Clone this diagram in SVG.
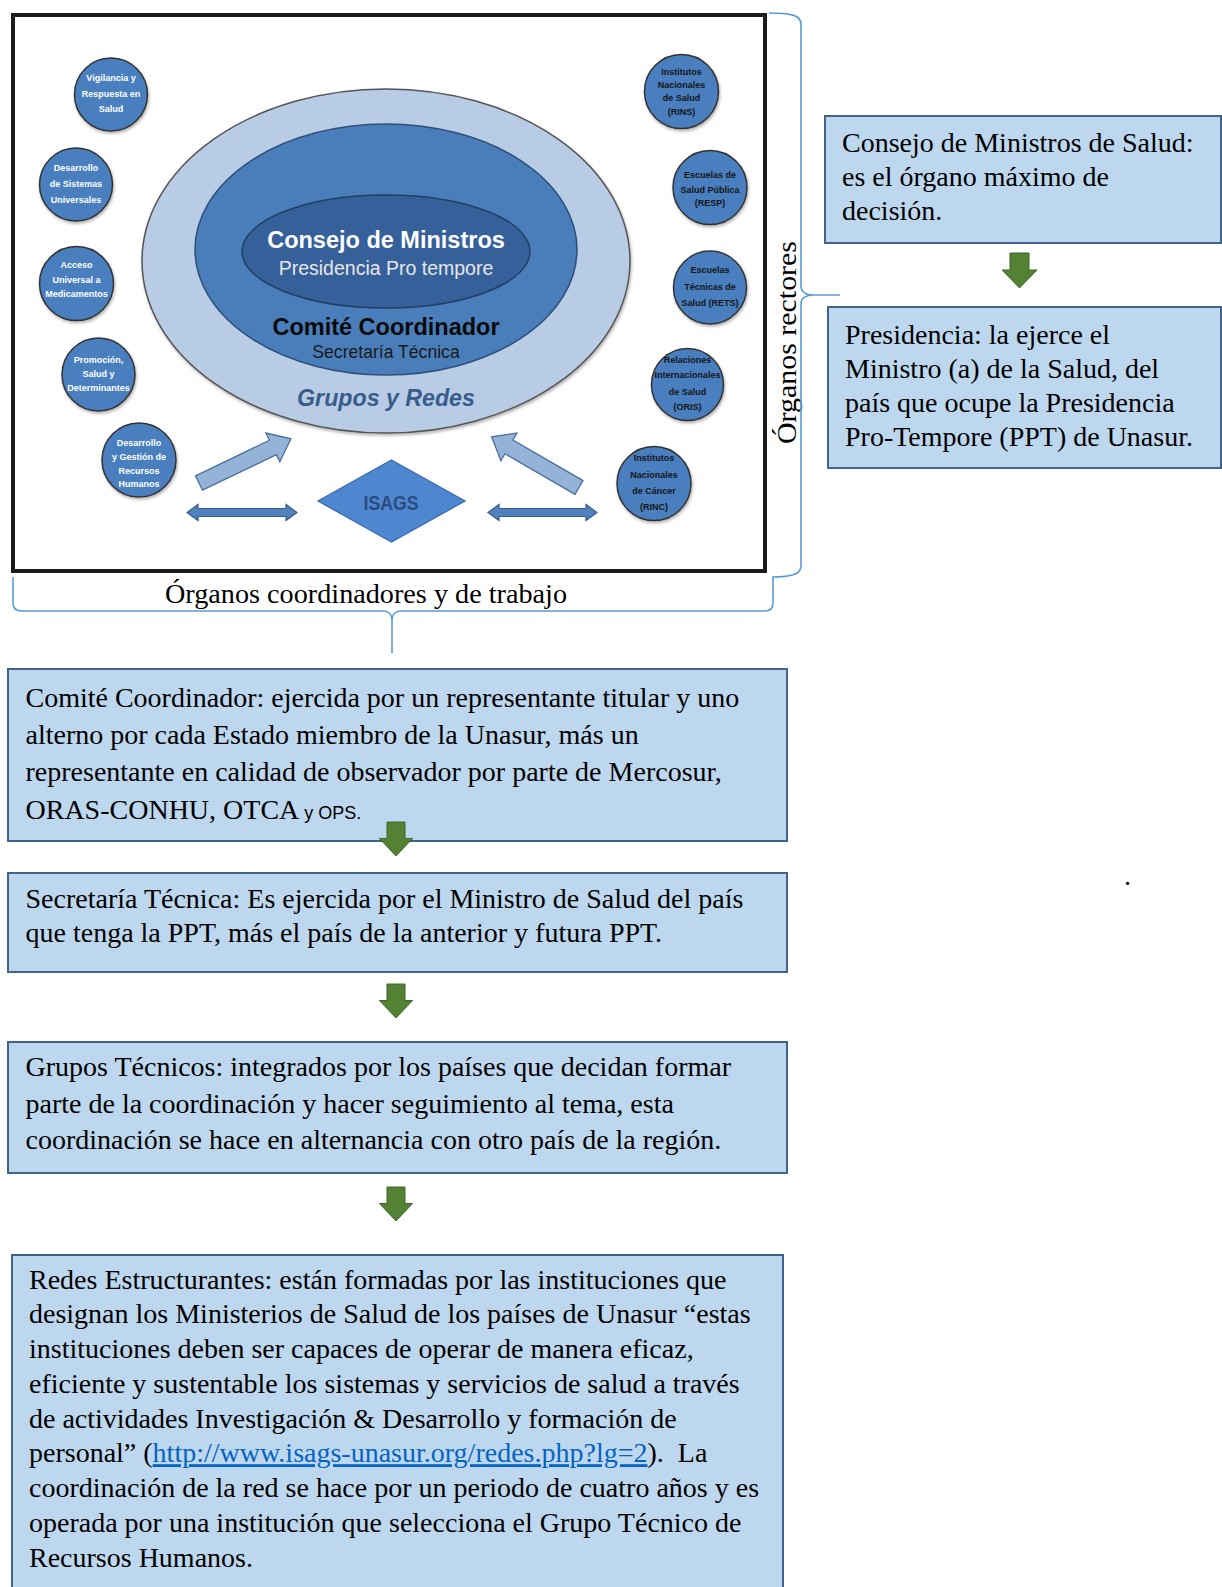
<svg xmlns="http://www.w3.org/2000/svg" xmlns:xlink="http://www.w3.org/1999/xlink" width="1222" height="1587" viewBox="0 0 1222 1587">
<style>
.t{font-family:"Liberation Serif","Times New Roman",serif;font-size:28px;fill:#000}
.sans{font-family:"Liberation Sans",Arial,sans-serif;font-size:18px}
.box{fill:#BDD7EE;stroke:#3F6389;stroke-width:2}
.circ{fill:#4A7EBF;stroke:#333;stroke-width:1.5}
.ct{font-family:"Liberation Sans",Arial,sans-serif;font-weight:bold;font-size:9px;text-anchor:middle}
.cw{fill:#fff}
.cb{fill:#151515}
.brace{fill:none;stroke:#5B9BD5;stroke-width:1.6}
.garrow{fill:#548235;stroke:#3E6327;stroke-width:1}
.diag{fill:#95B3D7;stroke:#4A6F9F;stroke-width:1.3}
.dbl{fill:#4F81BD;stroke:#385D8A;stroke-width:1.2}
.hs{font-family:"Liberation Sans",Arial,sans-serif;text-anchor:middle}
.link{fill:#0563C1;text-decoration:underline}
</style>
<defs>
<filter id="sh" x="-20%" y="-20%" width="140%" height="140%">
<feDropShadow dx="1" dy="2" stdDeviation="1.5" flood-color="#000" flood-opacity="0.3"/>
</filter>
<path id="ga" d="M-9.5,0 H9.5 V17 H17.5 L0,35 L-17.5,17 H-9.5 Z"/>
</defs>
<rect width="1222" height="1587" fill="#fff"/>

<g id="frame">
<rect x="13" y="15" width="752" height="556" fill="#fff" stroke="#1c1c1c" stroke-width="4"/>
</g>

<g id="ellipses">
<ellipse cx="386" cy="261" rx="244" ry="172" fill="#B8CCE6" stroke="#555" stroke-width="1.5" filter="url(#sh)"/>
<ellipse cx="386" cy="249.5" rx="191" ry="125.5" fill="#4A7EBB" stroke="#2E4F77" stroke-width="1.5"/>
<ellipse cx="386" cy="251.5" rx="144" ry="56.5" fill="#36609A" stroke="#233E63" stroke-width="1.5"/>
<text class="hs" x="386" y="248" font-size="23.5" font-weight="bold" fill="#fff">Consejo de Ministros</text>
<text class="hs" x="386" y="275" font-size="19.5" fill="#E6E6E6">Presidencia Pro tempore</text>
<text class="hs" x="386" y="335" font-size="23.5" font-weight="bold" fill="#0a0a0a">Comité Coordinador</text>
<text class="hs" x="386" y="358" font-size="17.6" fill="#1a1a1a">Secretaría Técnica</text>
<text class="hs" x="386" y="406" font-size="23.2" font-weight="bold" font-style="italic" fill="#385D8A">Grupos y Redes</text>
</g>

<g id="c1"><circle class="circ" cx="111" cy="94.5" r="36.5" filter="url(#sh)"/>
<text class="ct cw" x="111" y="81">Vigilancia y</text><text class="ct cw" x="111" y="97">Respuesta en</text><text class="ct cw" x="111" y="112">Salud</text></g>
<g id="c2"><circle class="circ" cx="76" cy="184.5" r="36.5" filter="url(#sh)"/>
<text class="ct cw" x="76" y="171">Desarrollo</text><text class="ct cw" x="76" y="187">de Sistemas</text><text class="ct cw" x="76" y="203">Universales</text></g>
<g id="c3"><circle class="circ" cx="76.5" cy="283.5" r="37" filter="url(#sh)"/>
<text class="ct cw" x="76.5" y="268">Acceso</text><text class="ct cw" x="76.5" y="283">Universal  a</text><text class="ct cw" x="76.5" y="297">Medicamentos</text></g>
<g id="c4"><circle class="circ" cx="98.5" cy="374.5" r="36.5" filter="url(#sh)"/>
<text class="ct cw" x="98.5" y="363">Promoción,</text><text class="ct cw" x="98.5" y="377">Salud y</text><text class="ct cw" x="98.5" y="391">Determinantes</text></g>
<g id="c5"><circle class="circ" cx="139" cy="460" r="37" filter="url(#sh)"/>
<text class="ct cw" x="139" y="446">Desarrollo</text><text class="ct cw" x="139" y="460">y Gestión de</text><text class="ct cw" x="139" y="474">Recursos</text><text class="ct cw" x="139" y="487">Humanos</text></g>

<g id="c6"><circle class="circ" cx="681.5" cy="91.5" r="37" filter="url(#sh)"/>
<text class="ct cb" x="681.5" y="74.5">Institutos</text><text class="ct cb" x="681.5" y="87.5">Nacionales</text><text class="ct cb" x="681.5" y="101">de Salud</text><text class="ct cb" x="681.5" y="114.5">(RINS)</text></g>
<g id="c7"><circle class="circ" cx="710" cy="187.5" r="37" filter="url(#sh)"/>
<text class="ct cb" x="710" y="178">Escuelas de</text><text class="ct cb" x="710" y="193">Salud Pública</text><text class="ct cb" x="710" y="206">(RESP)</text></g>
<g id="c8"><circle class="circ" cx="710" cy="287.5" r="36.5" filter="url(#sh)"/>
<text class="ct cb" x="710" y="273">Escuelas</text><text class="ct cb" x="710" y="289.5">Técnicas de</text><text class="ct cb" x="710" y="305.5">Salud (RETS)</text></g>
<g id="c9"><circle class="circ" cx="687.5" cy="384.5" r="36" filter="url(#sh)"/>
<text class="ct cb" x="687.5" y="363">Relaciones</text><text class="ct cb" x="687.5" y="378">Internacionales</text><text class="ct cb" x="687.5" y="394.5">de Salud</text><text class="ct cb" x="687.5" y="409.5">(ORIS)</text></g>
<g id="c10"><circle class="circ" cx="654" cy="483.5" r="37" filter="url(#sh)"/>
<text class="ct cb" x="654" y="461">Institutos</text><text class="ct cb" x="654" y="478">Nacionales</text><text class="ct cb" x="654" y="493.5">de Cáncer</text><text class="ct cb" x="654" y="509.5">(RINC)</text></g>

<g id="isags">
<polygon points="391.5,460 465,501 391.5,542 318,501" fill="#4F86D0" stroke="#3B6CB0" stroke-width="1.3"/>
<text x="391" y="510" font-family="Liberation Sans, Arial, sans-serif" font-weight="bold" font-size="20" text-anchor="middle" fill="#2B4C80" textLength="55" lengthAdjust="spacingAndGlyphs">ISAGS</text>
</g>

<g id="box-consejo">
<rect class="box" x="825" y="116" width="396" height="127"/>
<text class="t" x="842" y="152">Consejo de Ministros de Salud:</text>
<text class="t" x="842" y="186">es el órgano máximo de</text>
<text class="t" x="842" y="220">decisión.</text>
</g>
<g id="box-presidencia">
<rect class="box" x="828" y="307" width="393" height="161"/>
<text class="t" x="845" y="344">Presidencia: la ejerce el</text>
<text class="t" x="845" y="378">Ministro (a) de la Salud, del</text>
<text class="t" x="845" y="412">país que ocupe la Presidencia</text>
<text class="t" x="845" y="446">Pro-Tempore (PPT) de Unasur.</text>
</g>

<g id="labels">
<text class="t" font-size="30" transform="translate(796,444) rotate(-90)" textLength="203" lengthAdjust="spacingAndGlyphs">Órganos rectores</text>
<text class="t" x="165" y="603" textLength="402" lengthAdjust="spacingAndGlyphs">Órganos coordinadores y de trabajo</text>
<text class="t" x="1124" y="885">.</text>
</g>

<g id="box-comite">
<rect class="box" x="8" y="669" width="779" height="172"/>
<text class="t" x="25.5" y="706.5">Comité Coordinador: ejercida por un representante titular y uno</text>
<text class="t" x="25.5" y="743.5">alterno por cada Estado miembro de la Unasur, más un</text>
<text class="t" x="25.5" y="781">representante en calidad de observador por parte de Mercosur,</text>
<text class="t" x="25.5" y="818.5">ORAS-CONHU, OTCA<tspan class="sans"> y OPS.</tspan></text>
</g>
<g id="box-secretaria">
<rect class="box" x="8" y="873" width="779" height="99"/>
<text class="t" x="25.5" y="908">Secretaría Técnica: Es ejercida por el Ministro de Salud del país</text>
<text class="t" x="25.5" y="942">que tenga la PPT, más el país de la anterior y futura PPT.</text>
</g>
<g id="box-grupos">
<rect class="box" x="8" y="1042" width="779" height="131"/>
<text class="t" x="25.5" y="1076">Grupos Técnicos: integrados por los países que decidan formar</text>
<text class="t" x="25.5" y="1112.5">parte de la coordinación y hacer seguimiento al tema, esta</text>
<text class="t" x="25.5" y="1149">coordinación se hace en alternancia con otro país de la región.</text>
</g>
<g id="box-redes">
<rect class="box" x="12" y="1255" width="771" height="360"/>
<text class="t" x="29" y="1288.5">Redes Estructurantes: están formadas por las instituciones que</text>
<text class="t" x="29" y="1323.2">designan los Ministerios de Salud de los países de Unasur “estas</text>
<text class="t" x="29" y="1358">instituciones deben ser capaces de operar de manera eficaz,</text>
<text class="t" x="29" y="1392.7">eficiente y sustentable los sistemas y servicios de salud a través</text>
<text class="t" x="29" y="1427.5">de actividades Investigación &amp; Desarrollo y formación de</text>
<text class="t" x="29" y="1462.2">personal” (<tspan class="link">http://www.isags-unasur.org/redes.php?lg=2</tspan>).&#160; La</text>
<text class="t" x="29" y="1497">coordinación de la red se hace por un periodo de cuatro años y es</text>
<text class="t" x="29" y="1531.7">operada por una institución que selecciona el Grupo Técnico de</text>
<text class="t" x="29" y="1566.5">Recursos Humanos.</text>
</g>

<g id="connectors">
<path class="brace" d="M769,13 C790,13 801,15 801,24 V286 C801,292 806,295 814,295 H840 M814,295 C806,295 801,298 801,304 V566 C801,574 792,577 772,577"/>
<path class="brace" d="M13,577 V603 C13,608 16,611 22,611 H383 C388,611 392,614 392,620 V653 M392,620 C392,614 396,611 401,611 H765 C770,611 773,608 773,603 V577"/>
<use href="#ga" class="garrow" transform="translate(1019.5,253)"/>
<use href="#ga" class="garrow" transform="translate(396,822) scale(0.95,0.97)"/>
<use href="#ga" class="garrow" transform="translate(396,984) scale(0.95,0.97)"/>
<use href="#ga" class="garrow" transform="translate(396,1187) scale(0.95,0.97)"/>
<polygon class="diag" transform="translate(199,483) rotate(-25.7)" points="0,-8 82,-8 82,-16 102,0 82,16 82,8 0,8"/>
<polygon class="diag" transform="translate(579,487.5) rotate(210.1)" points="0,-8 81,-8 81,-16 101,0 81,16 81,8 0,8"/>
<polygon class="dbl" points="187,512.5 198,504.5 198,508.5 286,508.5 286,504.5 297,512.5 286,520.5 286,516.5 198,516.5 198,520.5"/>
<polygon class="dbl" points="488,512.5 499,504.5 499,508.5 586,508.5 586,504.5 597,512.5 586,520.5 586,516.5 499,516.5 499,520.5"/>
</g>
</svg>
